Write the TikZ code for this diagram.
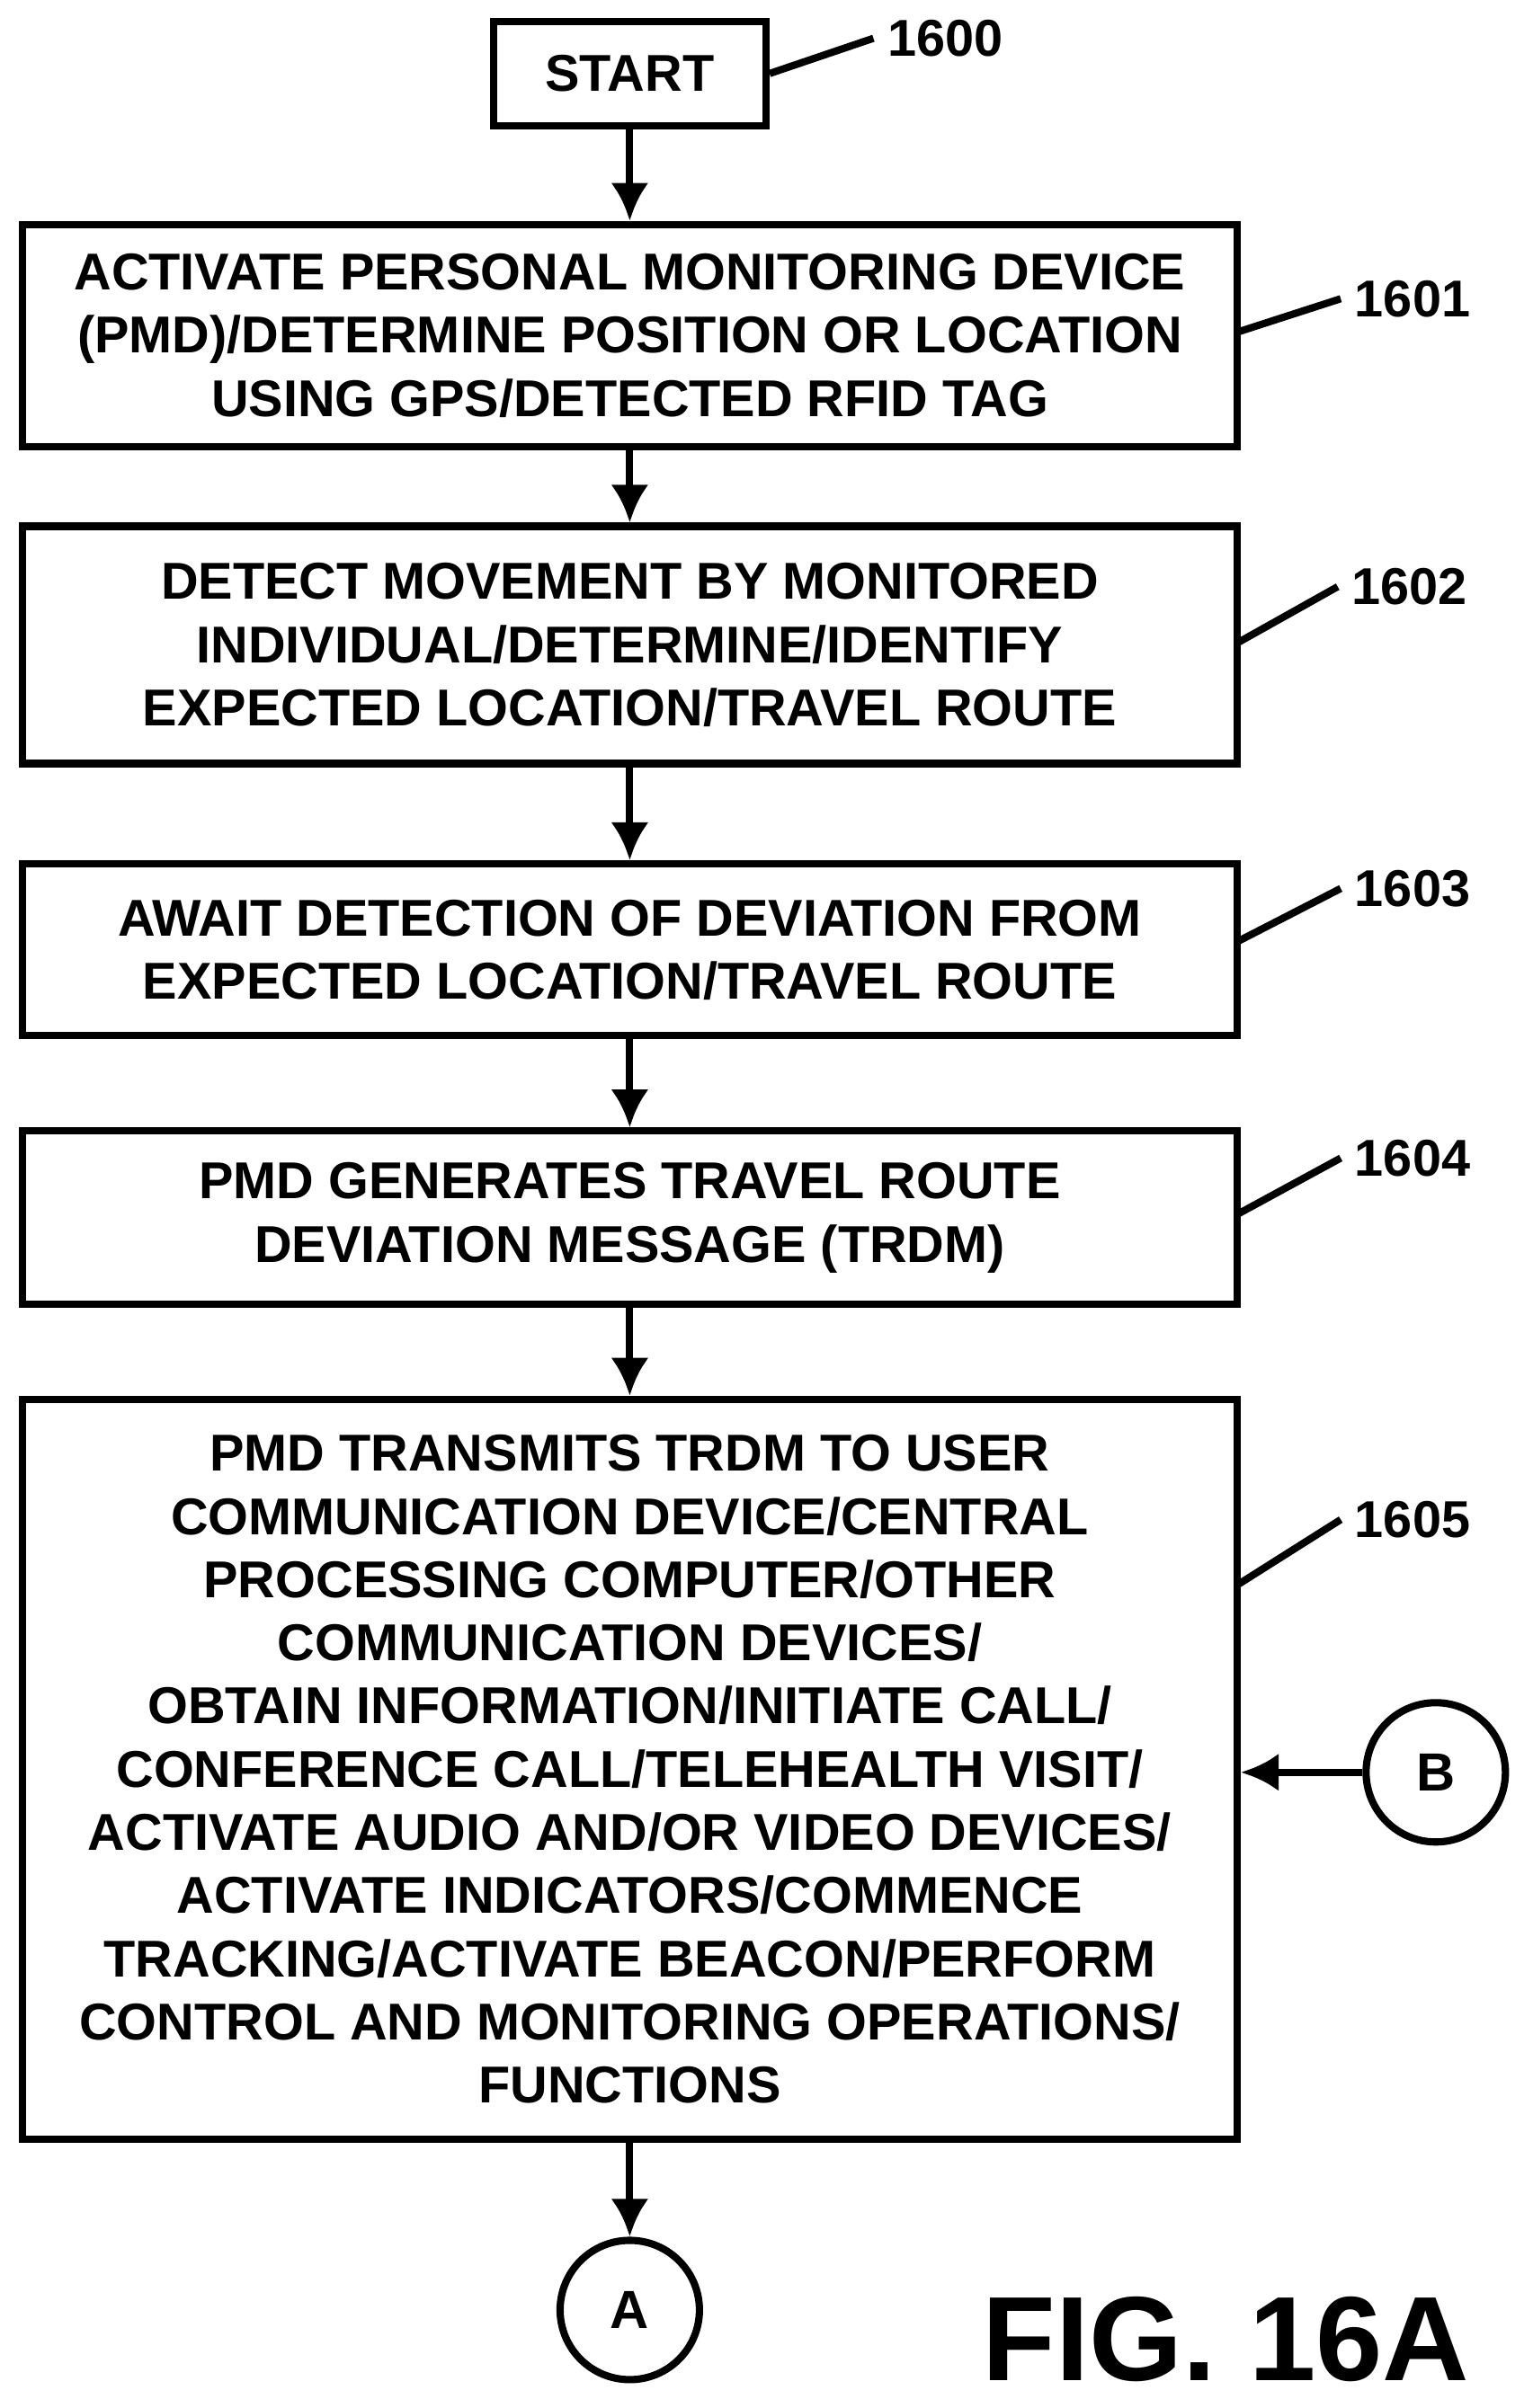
\documentclass[tikz,border=0pt]{standalone}
\usepackage{fontspec}
\setmainfont{Liberation Sans}
\usetikzlibrary{arrows.meta}
\begin{document}
\begin{tikzpicture}[x=0.01704cm,y=-0.01704cm,line width=2.3pt,
  box/.style={draw,align=center,font=\bfseries\fontsize{16.4}{20}\selectfont,inner sep=0pt},
  wide/.style={box,minimum width=13.51cm},
  conn/.style={draw,circle,minimum size=1.55cm,inner sep=0pt,font=\bfseries\fontsize{17}{20}\selectfont},
  lbl/.style={font=\bfseries\fontsize{16.4}{20}\selectfont},
  arr/.style={->,>={Latex[length=12pt,width=12pt]}}]
\useasboundingbox (0,0) rectangle (1000,1572);
\node[box,minimum width=3.03cm,minimum height=1.16cm] (start) at (411,48) {START};
\node[wide,minimum height=2.47cm] (s1) at (411,219) {ACTIVATE PERSONAL MONITORING DEVICE\\(PMD)/DETERMINE POSITION OR LOCATION\\USING GPS/DETECTED RFID TAG};
\node[wide,minimum height=2.64cm] (s2) at (411,421) {DETECT MOVEMENT BY MONITORED\\INDIVIDUAL/DETERMINE/IDENTIFY\\EXPECTED LOCATION/TRAVEL ROUTE};
\node[wide,minimum height=1.91cm] (s3) at (411,620) {AWAIT DETECTION OF DEVIATION FROM\\EXPECTED LOCATION/TRAVEL ROUTE};
\node[wide,minimum height=1.93cm] (s4) at (411,795) {PMD GENERATES TRAVEL ROUTE\\DEVIATION MESSAGE (TRDM)};
\node[wide,minimum height=8.23cm] (s5) at (411,1155) {PMD TRANSMITS TRDM TO USER\\COMMUNICATION DEVICE/CENTRAL\\PROCESSING COMPUTER/OTHER\\COMMUNICATION DEVICES/\\OBTAIN INFORMATION/INITIATE CALL/\\CONFERENCE CALL/TELEHEALTH VISIT/\\ACTIVATE AUDIO AND/OR VIDEO DEVICES/\\ACTIVATE INDICATORS/COMMENCE\\TRACKING/ACTIVATE BEACON/PERFORM\\CONTROL AND MONITORING OPERATIONS/\\FUNCTIONS};
\node[conn] (ca) at (411,1508) {A};
\node[conn] (cb) at (937,1157) {B};
\draw[arr] (start) -- (s1);
\draw[arr] (s1) -- (s2);
\draw[arr] (s2) -- (s3);
\draw[arr] (s3) -- (s4);
\draw[arr] (s4) -- (s5);
\draw[arr] (s5) -- (ca);
\draw[arr] (cb) -- (s5.east |- cb);
% reference numerals
\node[lbl,anchor=west] (n0) at (570,25) {1600};
\node[lbl,anchor=west] (n1) at (875,195) {1601};
\node[lbl,anchor=west] (n2) at (873,383) {1602};
\node[lbl,anchor=west] (n3) at (875,580) {1603};
\node[lbl,anchor=west] (n4) at (875,756) {1604};
\node[lbl,anchor=west] (n5) at (875,992) {1605};
\draw (start.east) -- (n0.west);
\draw (807,217) -- (n1.west);
\draw (807,420) -- (n2.west);
\draw (807,615) -- (n3.west);
\draw (807,793) -- (n4.west);
\draw (807,1035) -- (n5.west);
\node[font=\bfseries\fontsize{38}{42}\selectfont] (fig) at (800,1527) {FIG. 16A};
\end{tikzpicture}
\end{document}
